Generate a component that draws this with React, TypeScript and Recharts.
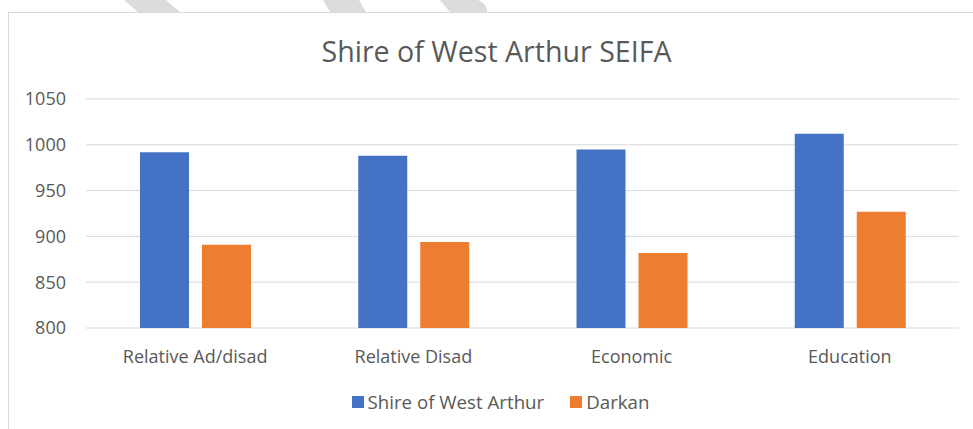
import { Bar, BarChart, CartesianGrid, XAxis, YAxis } from "recharts";

const categories = ["Relative Ad/disad", "Relative Disad", "Economic", "Education"];
const shireValues = [992, 988, 995, 1012];
const darkanValues = [891, 894, 882, 927];
const yTicks = [800, 850, 900, 950, 1000, 1050];

const data = categories.map((name, i) => ({
  name,
  shire: shireValues[i],
  darkan: darkanValues[i]
}));

const FONT = "'Open Sans', 'Noto Sans', sans-serif";
const TEXT = "#595959";

const seriesInfo = [
  { key: "shire", label: "Shire of West Arthur", color: "#4472C4" },
  { key: "darkan", label: "Darkan", color: "#ED7D31" }
];

function LegendRow() {
  return (
    <div style={{ display: "flex", justifyContent: "center", gap: 26, fontFamily: FONT, fontSize: 18.7, color: TEXT }}>
      {seriesInfo.map((s) => (
        <div key={s.key} style={{ display: "flex", alignItems: "center", gap: 4 }}>
          <span style={{ width: 12, height: 12, background: s.color, display: "inline-block" }} />
          <span>{s.label}</span>
        </div>
      ))}
    </div>
  );
}

export default function App() {
  return (
    <div style={{ position: "absolute", left: 0, top: 0, width: 973, height: 429, background: "#fff", overflow: "hidden" }}>
      <div style={{ position: "absolute", left: 8, top: 12, width: 1100, height: 600, border: "1px solid #d9d9d9" }} />
      <svg width={973} height={13} style={{ position: "absolute", left: 0, top: 0 }}>
        <polygon points="124,0 166,0 180,12 138,12" fill="#dcdcdc" />
        <polygon points="323,0 359,0 366,12 330,12" fill="#dcdcdc" />
        <path d="M440,0 L478,0 Q488,4 487,12 L450,12 Z" fill="#dcdcdc" />
      </svg>
      <div style={{ position: "absolute", left: 10, top: 32, width: 973, textAlign: "center", fontFamily: FONT, fontSize: 28.6, lineHeight: "38px", color: TEXT }}>
        Shire of West Arthur SEIFA
      </div>
      <div style={{ position: "absolute", left: 0, top: 0 }}>
        <BarChart
          width={973}
          height={429}
          data={data}
          margin={{ top: 99, right: 14, bottom: 71, left: 26 }}
          barSize={49}
          barGap={13}
        >
          <CartesianGrid vertical={false} stroke="#d9d9d9" strokeWidth={1} />
          <XAxis
            dataKey="name"
            height={30}
            axisLine={false}
            tickLine={false}
            tickMargin={16}
            tick={{ fill: TEXT, fontSize: 18, fontFamily: FONT }}
            interval={0}
          />
          <YAxis
            width={60}
            domain={[800, 1050]}
            ticks={yTicks}
            axisLine={false}
            tickLine={false}
            tickMargin={14}
            tick={{ fill: TEXT, fontSize: 18, fontFamily: FONT }}
          />
          {seriesInfo.map((s) => (
            <Bar key={s.key} dataKey={s.key} name={s.label} fill={s.color} isAnimationActive={false} />
          ))}
        </BarChart>
      </div>
      <div style={{ position: "absolute", left: 14, top: 389, width: 973 }}>
        <LegendRow />
      </div>
    </div>
  );
}
